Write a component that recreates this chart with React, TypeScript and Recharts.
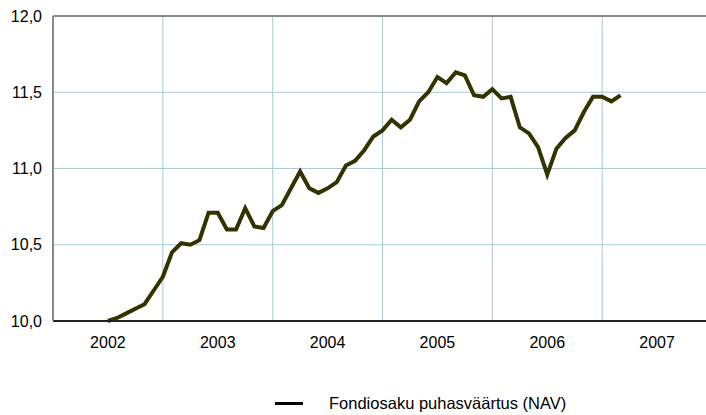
import React from 'react'
import {
  LineChart,
  Line,
  XAxis,
  YAxis,
  CartesianGrid,
  ReferenceLine,
  Legend,
} from 'recharts'

// months counted from Jan 2002
const startMonth = 6
const years = ['2002', '2003', '2004', '2005', '2006', '2007']
const yearTicks = [6, 18, 30, 42, 54, 66]
const yearBounds = [12, 24, 36, 48, 60]
const valueTicks = [10, 10.5, 11, 11.5, 12]

const navValues = [
  10.0, 10.02, 10.05, 10.08, 10.11, 10.2, 10.29, 10.45, 10.51, 10.5, 10.53, 10.71,
  10.71, 10.6, 10.6, 10.74, 10.62, 10.61, 10.72, 10.76, 10.87, 10.98, 10.87, 10.84,
  10.87, 10.91, 11.02, 11.05, 11.12, 11.21, 11.25, 11.32, 11.27, 11.32, 11.44, 11.5,
  11.6, 11.56, 11.63, 11.61, 11.48, 11.47, 11.52, 11.46, 11.47, 11.27, 11.23, 11.14,
  10.96, 11.13, 11.2, 11.25, 11.37, 11.47, 11.47, 11.44, 11.48,
]

const data = navValues.map((v, i) => ({ m: startMonth + i, nav: v }))

const font = 'Liberation Sans, Arial, sans-serif'

function NavLegend() {
  return (
    <div style={{ position: 'relative', height: 24, fontFamily: font, fontSize: 16.5, color: '#000' }}>
      <div style={{ position: 'absolute', left: 275, top: 12, width: 28, height: 3, background: '#000' }} />
      <div style={{ position: 'absolute', left: 329, top: 4, whiteSpace: 'nowrap' }}>
        Fondiosaku puhasväärtus (NAV)
      </div>
    </div>
  )
}

export default function App() {
  return (
    <div style={{ position: 'absolute', left: 0, top: 0, width: 706, height: 415, overflow: 'hidden', background: '#fff' }}>
      <LineChart width={720} height={415} data={data} margin={{ top: 16, right: 8, left: 0, bottom: 30 }}>
        <CartesianGrid vertical={false} stroke="#a7cbd6" strokeWidth={1} />
        {yearBounds.map((b) => (
          <ReferenceLine key={b} x={b} stroke="#a7cbd6" strokeWidth={1} />
        ))}
        <ReferenceLine y={12} stroke="#8a8a8a" strokeWidth={2} />
        <XAxis
          dataKey="m"
          type="number"
          domain={[0, 72]}
          ticks={yearTicks}
          tickFormatter={(v: number) => years[yearTicks.indexOf(v)]}
          axisLine={{ stroke: '#222', strokeWidth: 2 }}
          tickLine={false}
          tickSize={0}
          tickMargin={16}
          height={40}
          tick={{ fontSize: 16, fill: '#000', fontFamily: font }}
        />
        <YAxis
          domain={[10, 12]}
          ticks={valueTicks}
          tickFormatter={(v: number) => v.toFixed(1).replace('.', ',')}
          axisLine={{ stroke: '#8a8a8a', strokeWidth: 2 }}
          tickLine={false}
          tickSize={0}
          tickMargin={11}
          width={53}
          tick={{ fontSize: 16, fill: '#000', fontFamily: font }}
        />
        <Legend
          content={<NavLegend />}
          wrapperStyle={{ top: 390, left: 0, width: 706 }}
        />
        <Line
          type="linear"
          dataKey="nav"
          stroke="#333300"
          strokeWidth={4}
          dot={false}
          isAnimationActive={false}
        />
      </LineChart>
    </div>
  )
}
